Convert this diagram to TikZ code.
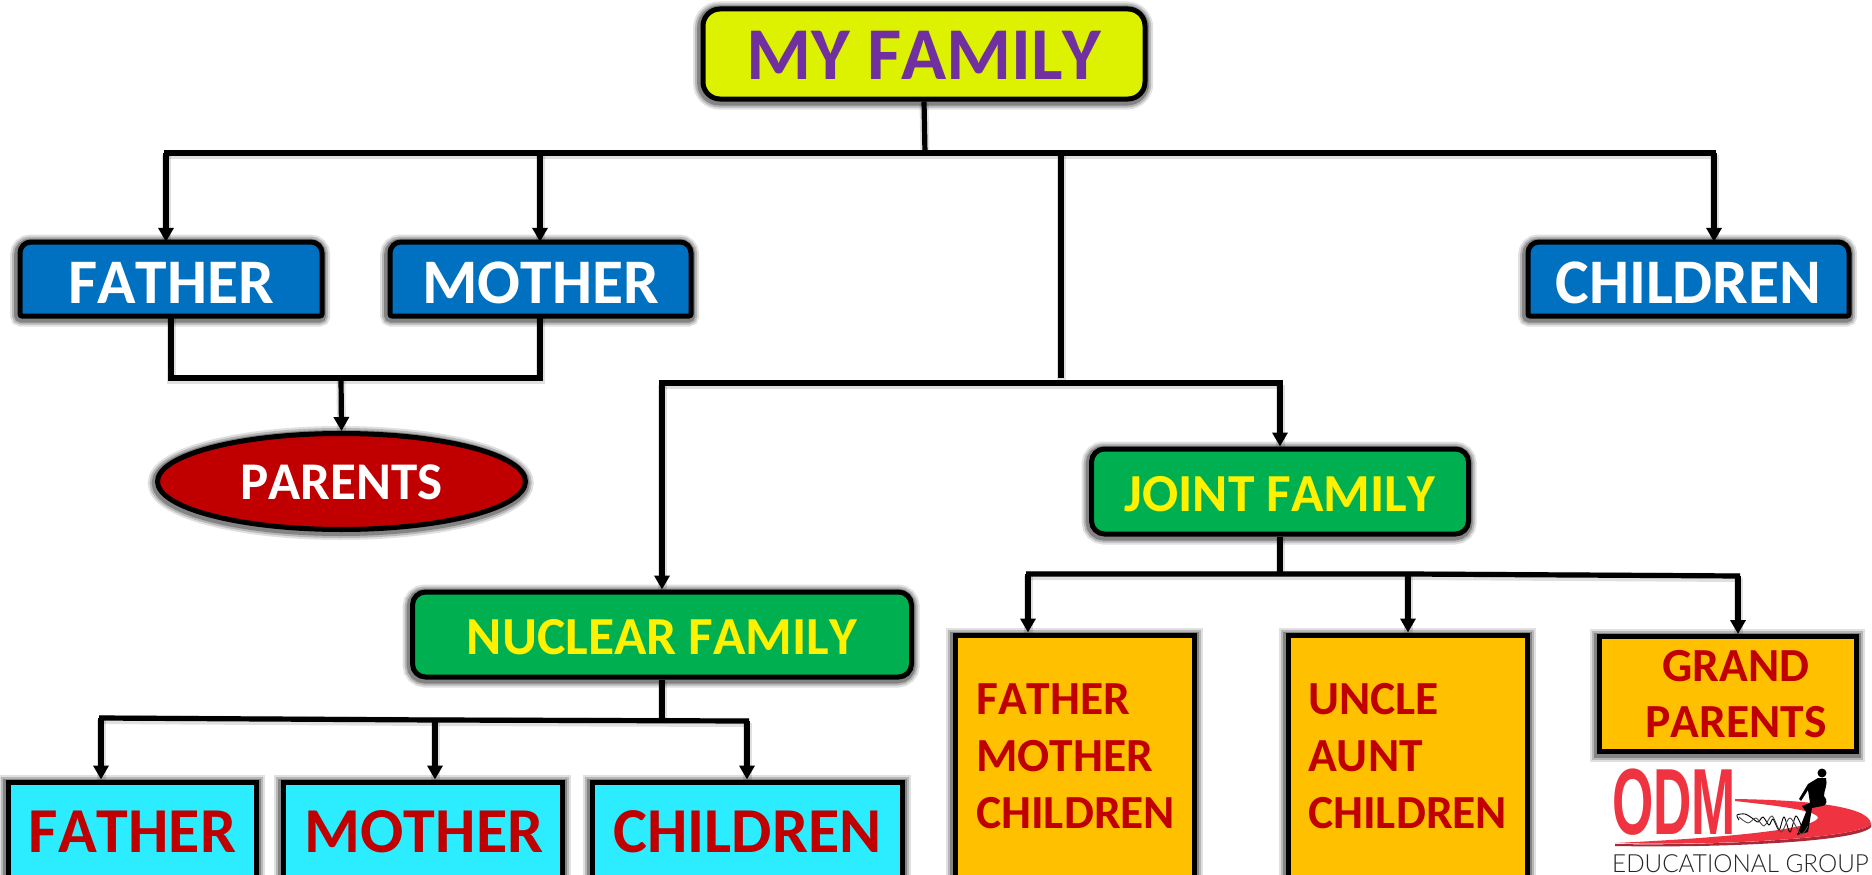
\documentclass[tikz,border=0pt]{standalone}
\usepackage{fontspec}
\setmainfont{Carlito}[Kerning=Off]
\newfontfamily\odmfont{Liberation Sans}
\newfontfamily\odmlight{Lato Light}
\usetikzlibrary{arrows.meta,shapes.geometric,calc}
\definecolor{lime}{HTML}{DDF200}
\definecolor{plum}{HTML}{7030A0}
\definecolor{bluebox}{HTML}{0070C0}
\definecolor{redbox}{HTML}{C00000}
\definecolor{greenbox}{HTML}{00B050}
\definecolor{cyanbox}{HTML}{2CECFF}
\definecolor{orangebox}{HTML}{FFC000}
\definecolor{odmred}{HTML}{EF3340}
\definecolor{odmdark}{HTML}{A82A38}
\newcommand{\fs}[1]{\fontsize{#1pt}{#1pt}\selectfont\bfseries}
\newcommand{\low}[2][2pt]{\raisebox{-#1}[\height][\depth]{#2}}
\tikzset{
  softshadow/.style={
    preaction={draw=black,opacity=.12,line width=18pt,transform canvas={xshift=-.8pt,yshift=-1.5pt}},
    preaction={draw=black,opacity=.18,line width=14pt,transform canvas={xshift=-.8pt,yshift=-1.5pt}},
    preaction={draw=black,opacity=.28,line width=10pt,transform canvas={xshift=-.8pt,yshift=-1.5pt}}},
  outlined/.style={draw=black,line width=5pt,softshadow},
  boxtext/.style={inner sep=0pt,align=center},
  wire/.style={draw=black,line width=5.2pt,line cap=butt,line join=miter,
    preaction={draw=black,opacity=.12,line width=9pt,arrows=-,transform canvas={yshift=-1.5pt}}},
  arrowwire/.style={wire,-{Triangle[length=14pt,width=15pt]}},
  orangetext/.style={text=redbox,font=\fontsize{47.5pt}{57pt}\selectfont\bfseries,align=left,inner sep=0pt,anchor=west,text width=215pt}
}
\newcommand{\topround}[5]{% fill, x1,y1,x2,y2 : round top corners only
  \path[outlined,fill=#1] [rounded corners=2pt] (#2,{(#3+#5)/2}) -- (#2,#5) -- (#4,#5) -- (#4,{(#3+#5)/2})
     [rounded corners=11pt] -- (#4,#3) -- (#2,#3) -- cycle;}
\begin{document}
\begin{tikzpicture}[x=1pt,y=-1pt]
\useasboundingbox (0,0) rectangle (1872,875);
\clip (0,0) rectangle (1872,875);
\fill[white] (0,0) rectangle (1872,875);

% top box
\node[outlined,fill=lime,rounded corners=17pt,text=plum,font=\fs{74.5},minimum width=442pt,minimum height=90pt,inner sep=0pt] (top) at (924,54) {\low[1.5pt]{MY FAMILY}};

% level two boxes
\topround{bluebox}{20}{242}{322}{316}
\node[boxtext,text=white,font=\fs{63.5},minimum width=302pt,minimum height=74pt] (father) at (171,279) {\low[3.5pt]{FATHER}};
\topround{bluebox}{390}{242}{691}{316}
\node[boxtext,text=white,font=\fs{63.5},minimum width=301pt,minimum height=74pt] (mother) at (540.5,279) {\low[3.5pt]{MOTHER}};
\topround{bluebox}{1528}{242}{1849}{316}
\node[boxtext,text=white,font=\fs{63.5},minimum width=321pt,minimum height=74pt] (children) at (1688.5,279) {\low[3.5pt]{CHILDREN}};

% parents
\node[ellipse,outlined,fill=redbox,text=white,font=\fs{53},minimum width=368pt,minimum height=96pt,inner sep=0pt] (parents) at (341.5,481.5) {\low[1pt]{PARENTS}};

% family types
\node[outlined,fill=greenbox,rounded corners=13pt,text=yellow,font=\fs{53.5},minimum width=377pt,minimum height=85pt,inner sep=0pt] (joint) at (1280,491.5) {\low[2.5pt]{JOINT FAMILY}};
\node[outlined,fill=greenbox,rounded corners=13pt,text=yellow,font=\fs{53.5},minimum width=499pt,minimum height=85pt,inner sep=0pt] (nuclear) at (662,634.5) {\low[2.5pt]{NUCLEAR FAMILY}};

% bottom left row
\node[outlined,fill=cyanbox,minimum width=248pt,minimum height=140pt,inner sep=0pt] (nfather) at (132.5,852) {};
\node[boxtext,text=redbox,font=\fs{64}] (nfathert) at (132.5,832) {FATHER};
\node[outlined,fill=cyanbox,minimum width=279pt,minimum height=140pt,inner sep=0pt] (nmother) at (423,852) {};
\node[boxtext,text=redbox,font=\fs{64}] (nmothert) at (424,832) {MOTHER};
\node[outlined,fill=cyanbox,minimum width=310pt,minimum height=140pt,inner sep=0pt] (nchildren) at (747.5,852) {};
\node[boxtext,text=redbox,font=\fs{64}] (nchildrent) at (747.5,832) {CHILDREN};

% orange boxes
\node[outlined,fill=orangebox,minimum width=239pt,minimum height=270pt,inner sep=0pt] (jfather) at (1075,770) {};
\node[orangetext] (jfathert) at (976,756) {FATHER\\MOTHER\\CHILDREN};
\node[outlined,fill=orangebox,minimum width=239pt,minimum height=270pt,inner sep=0pt] (juncle) at (1408,770) {};
\node[orangetext] (junclet) at (1308,756) {UNCLE\\AUNT\\CHILDREN};
\node[outlined,fill=orangebox,minimum width=257pt,minimum height=115pt,inner sep=0pt] (jgrand) at (1728,694) {};
\node[boxtext,text=redbox,font=\fontsize{47.5pt}{56pt}\selectfont\bfseries] (jgrandt) at (1736,694.5) {GRAND\\PARENTS};

% junctions
\coordinate (trunkA) at (925,153);
\coordinate (busL) at (166,153);
\coordinate (busM) at (540,153);
\coordinate (busC) at (1061,153);
\coordinate (busR) at (1714,153);
\coordinate (dropEnd) at (1061,378);
\coordinate (typeL) at (662,383);
\coordinate (typeR) at (1280,383);
\coordinate (parL) at (171,378);
\coordinate (parR) at (540,378);
\coordinate (parM) at (341,378);
\coordinate (jBus) at (1280,573);
\coordinate (jL) at (1028,574);
\coordinate (jM) at (1408,574);
\coordinate (jR) at (1738,576);
\coordinate (nBus) at (662,720);
\coordinate (nL) at (101,718);
\coordinate (nM) at (435,720);
\coordinate (nR) at (747,721);

% connectors
\draw[wire] (top.south) -- (trunkA);
\draw[wire] ($(busL)+(-2,0)$) -- ($(busR)+(2,0)$);
\draw[arrowwire] (busL) -- (busL |- father.north);
\draw[arrowwire] (busM) -- (busM |- mother.north);
\draw[arrowwire] (busR) -- (busR |- children.north);
\draw[wire] (busC) -- (dropEnd);
\draw[wire] (parL |- father.south) -- (parL) -- (parR) -- (parR |- mother.south);
\draw[arrowwire] (parM) -- (parents.north);
\draw[arrowwire] (typeL) -- (typeL |- nuclear.north);
\draw[wire] ($(typeL)+(-2.6,0)$) -- ($(typeR)+(2.6,0)$);
\draw[arrowwire] (typeR) -- (joint.north);
\draw[wire] (joint.south) -- (jBus);
\draw[wire] ($(jL)+(-2,0)$) -- (jM) -- ($(jR)+(2,0)$);
\draw[arrowwire] (jL) -- (jL |- jfather.north);
\draw[arrowwire] (jM) -- (jM |- juncle.north);
\draw[arrowwire] (jR) -- (jR |- jgrand.north);
\draw[wire] (nuclear.south) -- (nBus);
\draw[wire] ($(nL)+(-2,0)$) -- (nM) -- ($(nR)+(2,0)$);
\draw[arrowwire] (nL) -- (nL |- nfather.north);
\draw[arrowwire] (nM) -- (nM |- nmother.north);
\draw[arrowwire] (nR) -- (nR |- nchildren.north);

% logo
\fill[odmdark] (1615,844) .. controls (1720,846) and (1860,838) .. (1871,824) -- (1871,827) .. controls (1860,842) and (1720,848) .. (1615,846) -- cycle;
\fill[odmred] (1735,799) .. controls (1800,800) and (1870,805) .. (1871,824) .. controls (1860,838) and (1720,846) .. (1615,843)
  .. controls (1720,838) and (1812,830) .. (1818,818) .. controls (1818,810) and (1770,805) .. (1735,801) -- cycle;
\node[inner sep=0pt,anchor=south west,text=odmred,xscale=.565] (odm) at (1612,835.5) {\odmfont\fontsize{94pt}{94pt}\selectfont\bfseries ODM};
\node[inner sep=0pt,anchor=base west,text=black!85,xscale=.97] (edu) at (1612,872) {\odmlight\fontsize{25pt}{25pt}\selectfont EDUCATIONAL GROUP};
\fill[black] (1822,773) circle (4.5);
\fill[black] (1818,778) -- (1826,778) .. controls (1828,785) and (1824,790) .. (1824,796) .. controls (1828,800) and (1827,806) .. (1822,806)
  -- (1812,808) -- (1808,832) -- (1797,835) -- (1806,812) -- (1802,806) -- (1810,803) -- (1808,790) -- (1801,801) -- (1799,799) -- (1808,784) -- cycle;
\draw[black,line width=.9pt] plot[smooth] coordinates {(1739,820) (1737,815) (1745,814) (1752,818) (1758,822) (1763,817) (1769,825) (1773,819) (1779,830) (1784,817) (1790,832) (1796,816) (1803,830)};
\draw[black!70,line width=.9pt] plot[smooth] coordinates {(1739,817) (1748,823) (1756,818) (1764,826) (1772,816) (1781,832) (1790,818) (1801,834) (1808,826)};
\end{tikzpicture}
\end{document}
